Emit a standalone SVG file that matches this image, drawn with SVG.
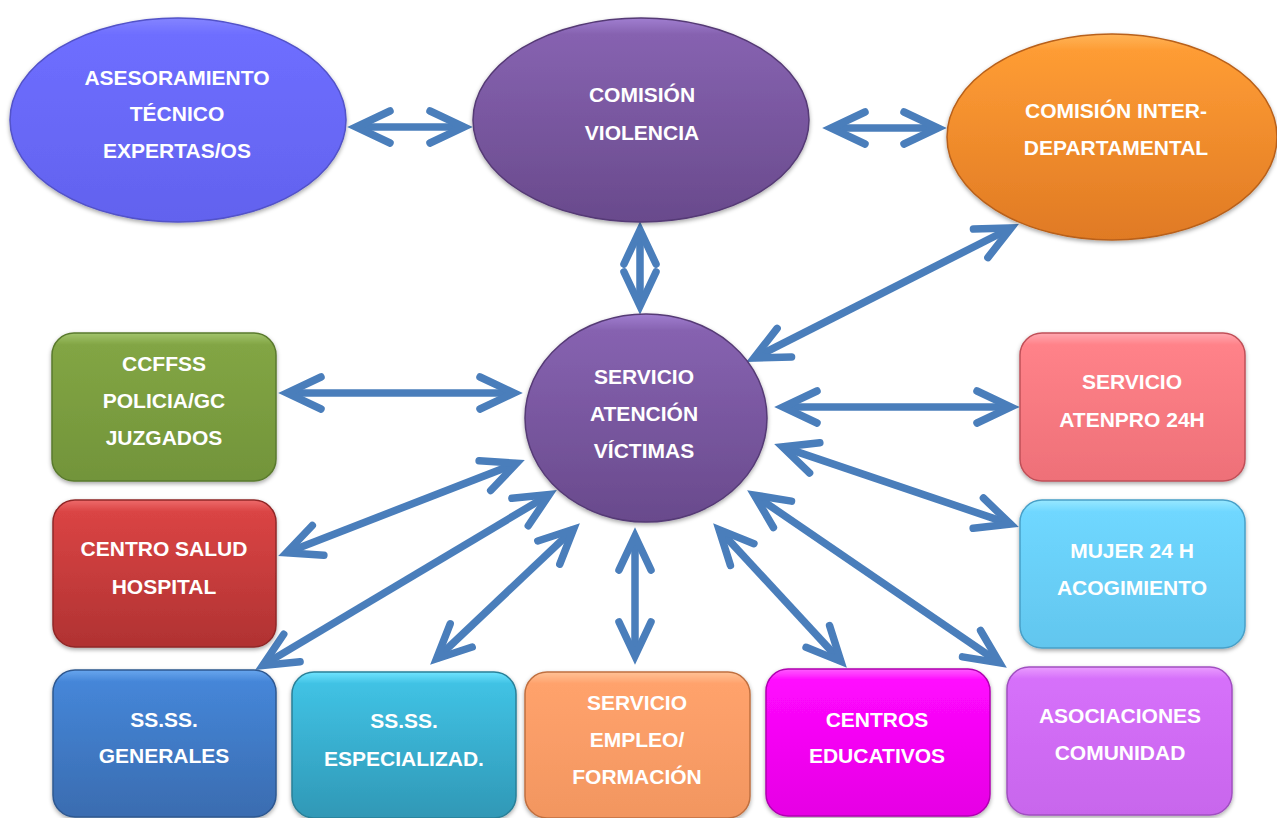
<svg xmlns="http://www.w3.org/2000/svg" width="1277" height="818" viewBox="0 0 1277 818">
  <style>
    .lbl { font-family: "Liberation Sans", Arial, sans-serif; font-weight: bold; font-size: 21px; fill: #ffffff; text-anchor: middle; }
    .node { filter: url(#shadow); stroke-width: 1.5; }
    .link { fill: none; stroke: #4a7ebb; stroke-width: 7.5; stroke-linecap: butt; marker-start: url(#chev); marker-end: url(#chev); }
  </style>
  <defs>
    <filter id="shadow" x="-10%" y="-10%" width="120%" height="125%">
      <feDropShadow dx="0" dy="2" stdDeviation="2.2" flood-color="#000000" flood-opacity="0.35"/>
    </filter>
    <marker id="chev" markerUnits="userSpaceOnUse" orient="auto-start-reverse" refX="0" refY="0" markerWidth="10" markerHeight="10" overflow="visible">
      <path d="M -34 -16 L 0 0 L -34 16" fill="none" stroke="#4a7ebb" stroke-width="7.5" stroke-linecap="round" stroke-linejoin="miter"/>
    </marker>
    <linearGradient id="gA" x1="0" y1="0" x2="0" y2="1"><stop offset="0" stop-color="#8484ff"/><stop offset="0.08" stop-color="#6e6eff"/><stop offset="1" stop-color="#6262ee"/></linearGradient>
    <linearGradient id="gPurple" x1="0" y1="0" x2="0" y2="1"><stop offset="0" stop-color="#a07ed0"/><stop offset="0.08" stop-color="#8662b0"/><stop offset="1" stop-color="#694a8c"/></linearGradient>
    <linearGradient id="gOrange" x1="0" y1="0" x2="0" y2="1"><stop offset="0" stop-color="#ffb458"/><stop offset="0.08" stop-color="#fe9c34"/><stop offset="1" stop-color="#e07a24"/></linearGradient>
    <linearGradient id="gGreen" x1="0" y1="0" x2="0" y2="1"><stop offset="0" stop-color="#a2c46c"/><stop offset="0.08" stop-color="#82a544"/><stop offset="1" stop-color="#72943a"/></linearGradient>
    <linearGradient id="gRed" x1="0" y1="0" x2="0" y2="1"><stop offset="0" stop-color="#ee6a6a"/><stop offset="0.08" stop-color="#da4444"/><stop offset="1" stop-color="#b03232"/></linearGradient>
    <linearGradient id="gBlue" x1="0" y1="0" x2="0" y2="1"><stop offset="0" stop-color="#68a6ee"/><stop offset="0.08" stop-color="#4586d8"/><stop offset="1" stop-color="#3a6cb0"/></linearGradient>
    <linearGradient id="gTeal" x1="0" y1="0" x2="0" y2="1"><stop offset="0" stop-color="#70e4ff"/><stop offset="0.08" stop-color="#40c2e4"/><stop offset="1" stop-color="#3098b6"/></linearGradient>
    <linearGradient id="gSalmon" x1="0" y1="0" x2="0" y2="1"><stop offset="0" stop-color="#ffc296"/><stop offset="0.08" stop-color="#ffa26c"/><stop offset="1" stop-color="#f29660"/></linearGradient>
    <linearGradient id="gMagenta" x1="0" y1="0" x2="0" y2="1"><stop offset="0" stop-color="#ff5cff"/><stop offset="0.08" stop-color="#ff08ff"/><stop offset="1" stop-color="#e600e4"/></linearGradient>
    <linearGradient id="gViolet" x1="0" y1="0" x2="0" y2="1"><stop offset="0" stop-color="#ea9cff"/><stop offset="0.08" stop-color="#d670fa"/><stop offset="1" stop-color="#c866ec"/></linearGradient>
    <linearGradient id="gPink" x1="0" y1="0" x2="0" y2="1"><stop offset="0" stop-color="#ffa8b0"/><stop offset="0.08" stop-color="#ff8289"/><stop offset="1" stop-color="#ee7078"/></linearGradient>
    <linearGradient id="gSky" x1="0" y1="0" x2="0" y2="1"><stop offset="0" stop-color="#98e8ff"/><stop offset="0.08" stop-color="#6fd7ff"/><stop offset="1" stop-color="#62c6ee"/></linearGradient>
  </defs>

  <rect x="0" y="0" width="1277" height="818" fill="#ffffff"/>

  <!-- connectors: double-headed arrows between the hubs and the services -->
  <g id="connectors">
    <path class="link" d="M356 127 L464 127"/>
    <path class="link" d="M831 128 L938 128"/>
    <path class="link" d="M640 230 L640 306"/>
    <path class="link" d="M1011 228 L754 358"/>
    <path class="link" d="M287 393 L514 393"/>
    <path class="link" d="M286.4 552.7 L516.6 463.3"/>
    <path class="link" d="M262.7 665.4 L549.3 494.6"/>
    <path class="link" d="M436.5 658.8 L573.5 529.2"/>
    <path class="link" d="M635 536 L635 656"/>
    <path class="link" d="M719.1 529.6 L840.9 661.4"/>
    <path class="link" d="M754.4 495.1 L999.6 662.9"/>
    <path class="link" d="M783 407 L1011 407"/>
    <path class="link" d="M782.5 446.9 L1010.5 524.1"/>
  </g>

  <!-- upper row of ellipses -->
  <g id="asesoramiento">
    <ellipse class="node" cx="178" cy="120" rx="168" ry="102" fill="url(#gA)" stroke="#5252c8"/>
    <text class="lbl" x="177" y="85">ASESORAMIENTO</text>
    <text class="lbl" x="177" y="121">TÉCNICO</text>
    <text class="lbl" x="177" y="158">EXPERTAS/OS</text>
  </g>
  <g id="comision-violencia">
    <ellipse class="node" cx="641" cy="120" rx="168" ry="102" fill="url(#gPurple)" stroke="#553a75"/>
    <text class="lbl" x="642" y="102">COMISIÓN</text>
    <text class="lbl" x="642" y="140">VIOLENCIA</text>
  </g>
  <g id="comision-inter">
    <ellipse class="node" cx="1112" cy="137" rx="165" ry="103" fill="url(#gOrange)" stroke="#b8601a"/>
    <text class="lbl" x="1116" y="118">COMISIÓN INTER-</text>
    <text class="lbl" x="1116" y="155">DEPARTAMENTAL</text>
  </g>

  <!-- central hub -->
  <g id="servicio-atencion">
    <ellipse class="node" cx="646" cy="418" rx="121" ry="104" fill="url(#gPurple)" stroke="#553a75"/>
    <text class="lbl" x="644" y="384">SERVICIO</text>
    <text class="lbl" x="644" y="421">ATENCIÓN</text>
    <text class="lbl" x="644" y="458">VÍCTIMAS</text>
  </g>

  <!-- left column -->
  <g id="ccffss">
    <rect class="node" x="52" y="333" width="224" height="148" rx="22" fill="url(#gGreen)" stroke="#5a7a2e"/>
    <text class="lbl" x="164" y="371">CCFFSS</text>
    <text class="lbl" x="164" y="408">POLICIA/GC</text>
    <text class="lbl" x="164" y="445">JUZGADOS</text>
  </g>
  <g id="centro-salud">
    <rect class="node" x="53" y="500" width="223" height="147" rx="22" fill="url(#gRed)" stroke="#902828"/>
    <text class="lbl" x="164" y="556">CENTRO SALUD</text>
    <text class="lbl" x="164" y="594">HOSPITAL</text>
  </g>

  <!-- bottom row -->
  <g id="ssss-generales">
    <rect class="node" x="53" y="670" width="223" height="147" rx="22" fill="url(#gBlue)" stroke="#2e5890"/>
    <text class="lbl" x="164" y="727">SS.SS.</text>
    <text class="lbl" x="164" y="763">GENERALES</text>
  </g>
  <g id="ssss-especializad">
    <rect class="node" x="292" y="672" width="224" height="146" rx="22" fill="url(#gTeal)" stroke="#2a8098"/>
    <text class="lbl" x="404" y="728">SS.SS.</text>
    <text class="lbl" x="404" y="766">ESPECIALIZAD.</text>
  </g>
  <g id="servicio-empleo">
    <rect class="node" x="525" y="672" width="225" height="146" rx="22" fill="url(#gSalmon)" stroke="#c07040"/>
    <text class="lbl" x="637" y="710">SERVICIO</text>
    <text class="lbl" x="637" y="747">EMPLEO/</text>
    <text class="lbl" x="637" y="784">FORMACIÓN</text>
  </g>
  <g id="centros-educativos">
    <rect class="node" x="766" y="669" width="224" height="147" rx="22" fill="url(#gMagenta)" stroke="#b000b0"/>
    <text class="lbl" x="877" y="727">CENTROS</text>
    <text class="lbl" x="877" y="763">EDUCATIVOS</text>
  </g>
  <g id="asociaciones">
    <rect class="node" x="1007" y="667" width="225" height="148" rx="22" fill="url(#gViolet)" stroke="#a050c0"/>
    <text class="lbl" x="1120" y="723">ASOCIACIONES</text>
    <text class="lbl" x="1120" y="760">COMUNIDAD</text>
  </g>

  <!-- right column -->
  <g id="atenpro">
    <rect class="node" x="1020" y="333" width="225" height="148" rx="22" fill="url(#gPink)" stroke="#c05058"/>
    <text class="lbl" x="1132" y="389">SERVICIO</text>
    <text class="lbl" x="1132" y="427">ATENPRO 24H</text>
  </g>
  <g id="mujer-24h">
    <rect class="node" x="1020" y="500" width="225" height="148" rx="22" fill="url(#gSky)" stroke="#48a0c8"/>
    <text class="lbl" x="1132" y="558">MUJER 24 H</text>
    <text class="lbl" x="1132" y="595">ACOGIMIENTO</text>
  </g>
</svg>
